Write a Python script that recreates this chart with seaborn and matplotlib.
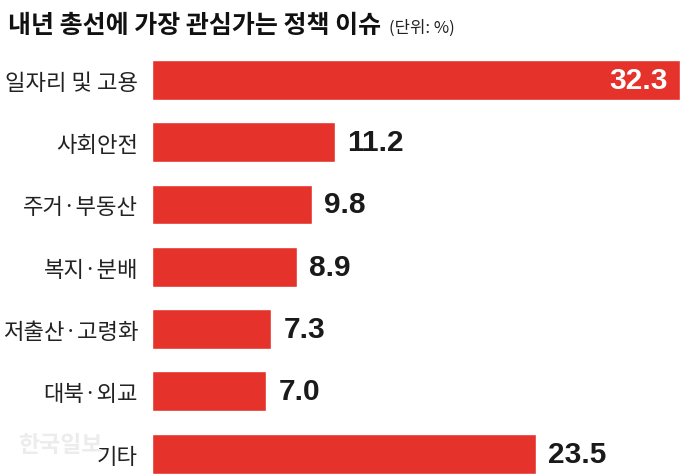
import matplotlib
matplotlib.use('Agg')
import matplotlib.pyplot as plt
import seaborn as sns
import pandas as pd

categories = ['일자리 및 고용', '사회안전', '주거·부동산', '복지·분배', '저출산·고령화', '대북·외교', '기타']
values = [32.3, 11.2, 9.8, 8.9, 7.3, 7.0, 23.5]
title_text = '내년 총선에 가장 관심가는 정책 이슈'
unit_text = '(단위: %)'
watermark = '한국일보'

sns.set_theme(style='white')
plt.rcParams['font.family'] = ['Noto Sans CJK KR', 'DejaVu Sans']

W, H = 680, 477
fig = plt.figure(figsize=(W / 100, H / 100), dpi=100)
ax = fig.add_axes([152 / W, 0, 1 - 152 / W, 1 - 49.8 / H])

df = pd.DataFrame({'cat': categories, 'val': values})
sns.barplot(data=df, x='val', y='cat', color='#e5322b', saturation=1,
            width=0.64, ax=ax)
ax.set_xlim(0, 32.3)
ax.set_ylim(6.36, -0.5)
sns.despine(ax=ax, left=True, bottom=True)
ax.set_xticks([])
ax.set_xlabel('')
ax.set_ylabel('')
ax.tick_params(axis='y', length=0, pad=10, labelsize=16, labelcolor='#222222')

for i, v in enumerate(values):
    if i == 0:
        ax.annotate(f'{v:.1f}', xy=(v, i), xytext=(-8.6, 0), textcoords='offset points',
                    ha='right', va='center', color='white', fontsize=21.5,
                    fontweight='bold', family=['Liberation Sans', 'DejaVu Sans'])
    else:
        ax.annotate(f'{v:.1f}', xy=(v, i), xytext=(8.6, 0), textcoords='offset points',
                    ha='left', va='center', color='#1a1a1a', fontsize=21.5,
                    fontweight='bold', family=['Liberation Sans', 'DejaVu Sans'])

t = fig.text(8 / W, 1 - 33 / H, title_text, ha='left', va='baseline',
             fontsize=18, fontweight='bold', color='#111111')
fig.canvas.draw()
bb = t.get_window_extent()
fig.text((bb.x1 + 8) / W, 1 - 33 / H, unit_text, ha='left', va='baseline',
         fontsize=12, color='#222222')

fig.text(18 / W, 1 - 452 / H, watermark, ha='left', va='baseline',
         fontsize=16.5, fontweight='bold', color='#ececec', zorder=0)

fig.savefig('out.png', dpi=100)
